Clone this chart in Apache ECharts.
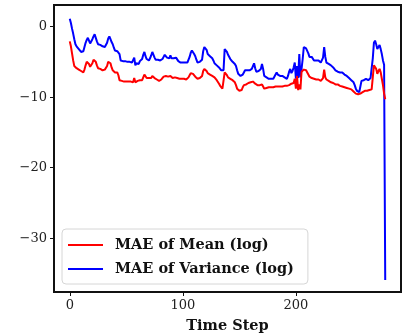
<!DOCTYPE html>
<html>
<head>
<meta charset="utf-8">
<script src="https://cdn.jsdelivr.net/npm/echarts@6/dist/echarts.min.js"></script>
<style>
  html, body { margin: 0; padding: 0; background: #fff; }
  #chart { width: 407px; height: 334px; }
</style>
</head>
<body>
<div id="chart"></div>
<script>
// MAE of Variance (log), one value per time step 0..279
const varianceLog = [
  1.1, 0.5, -0.3, -1.0, -1.8, -2.5, -2.8, -3.0, -3.2, -3.4,
  -3.6, -3.8, -3.5, -2.9, -2.3, -1.9, -1.6, -2.0, -2.4, -2.5,
  -1.8, -1.4, -1.1, -1.6, -2.1, -2.5, -2.4, -2.6, -2.8, -2.8,
  -2.9, -2.9, -2.9, -2.3, -1.7, -1.4, -1.8, -2.2, -2.5, -3.0,
  -3.4, -3.6, -3.5, -3.3, -3.9, -4.8, -4.8, -4.9, -4.9, -4.9,
  -4.9, -5.0, -4.9, -5.0, -5.0, -5.1, -5.0, -4.4, -5.5, -5.2,
  -5.1, -5.3, -4.9, -4.8, -4.6, -4.0, -3.6, -4.2, -4.6, -4.8,
  -4.8, -4.5, -4.1, -3.6, -3.7, -4.4, -4.7, -4.6, -4.7, -4.8,
  -4.8, -4.7, -4.6, -4.3, -4.0, -3.9, -4.4, -4.2, -4.5, -4.1,
  -4.5, -4.3, -4.5, -4.4, -4.4, -4.6, -4.9, -5.1, -5.1, -5.2,
  -5.1, -5.2, -5.1, -5.2, -5.1, -4.9, -4.3, -3.7, -3.4, -3.6,
  -3.9, -4.2, -4.7, -5.1, -5.1, -5.0, -5.1, -4.7, -3.5, -2.9,
  -2.7, -3.3, -3.9, -4.0, -4.2, -4.2, -4.5, -4.8, -5.2, -5.4,
  -5.5, -5.7, -5.8, -6.0, -6.2, -6.3, -6.2, -3.2, -3.0, -3.6,
  -4.0, -4.1, -4.6, -4.8, -5.0, -5.2, -5.3, -5.6, -6.2, -6.7,
  -6.8, -7.0, -7.0, -6.8, -6.5, -6.2, -6.3, -6.2, -6.1, -6.2,
  -6.1, -6.0, -5.6, -5.2, -5.9, -6.4, -6.5, -6.3, -6.2, -6.0,
  -5.3, -6.0, -7.0, -7.1, -7.2, -7.4, -7.4, -7.3, -7.4, -7.4,
  -7.4, -7.2, -6.8, -6.5, -6.8, -6.9, -7.0, -7.0, -7.0, -7.1,
  -7.2, -7.3, -7.4, -7.0, -6.4, -6.0, -6.6, -6.3, -5.8, -5.1,
  -7.4, -5.6, -7.3, -3.9, -7.2, -6.0, -4.6, -2.9, -3.0, -3.1,
  -3.2, -3.8, -4.3, -4.2, -4.3, -4.5, -4.8, -4.7, -4.8, -4.8,
  -4.8, -5.0, -5.1, -5.2, -4.4, -2.9, -4.3, -5.1, -5.2, -5.3,
  -5.3, -5.5, -5.7, -5.8, -6.0, -6.2, -6.3, -6.4, -6.5, -6.5,
  -6.5, -6.5, -6.6, -6.8, -6.9, -7.0, -7.2, -7.3, -7.4, -7.6,
  -7.8, -7.9, -8.3, -8.8, -9.1, -9.3, -9.3, -9.3, -7.7, -7.9,
  -7.6, -7.5, -7.4, -7.4, -7.6, -7.5, -7.3, -7.5, -4.5, -2.3,
  -2.0, -2.5, -3.2, -3.0, -2.6, -3.2, -3.9, -4.8, -5.4, -35.9
];

// MAE of Mean (log)
const meanLog = [
  -2.1, -2.8, -3.8, -4.8, -5.6, -5.8, -5.9, -6.0, -6.1, -6.1,
  -6.3, -6.4, -6.5, -6.1, -5.5, -5.0, -4.9, -5.3, -5.7, -5.8,
  -5.2, -4.7, -4.6, -5.0, -5.5, -5.9, -5.9, -6.0, -6.1, -6.2,
  -6.2, -6.1, -6.2, -5.6, -5.0, -4.8, -5.2, -5.8, -6.2, -6.4,
  -6.5, -6.6, -6.5, -6.9, -7.6, -7.7, -7.7, -7.8, -7.8, -7.8,
  -7.8, -7.7, -7.8, -7.9, -7.8, -7.7, -7.9, -7.3, -7.9, -7.8,
  -7.7, -7.8, -7.6, -7.7, -7.6, -7.2, -6.8, -7.0, -7.3, -7.4,
  -7.3, -7.4, -7.3, -7.0, -7.1, -7.3, -7.5, -7.5, -7.6, -7.7,
  -7.6, -7.5, -7.4, -7.1, -6.9, -7.0, -7.2, -7.1, -7.3, -7.0,
  -7.2, -7.3, -7.1, -7.2, -7.1, -7.3, -7.4, -7.4, -7.5, -7.4,
  -7.5, -7.4, -7.4, -7.5, -7.4, -7.2, -6.9, -6.6, -6.5, -6.7,
  -6.9, -7.1, -7.3, -7.4, -7.3, -7.3, -7.2, -7.0, -6.3, -6.0,
  -6.0, -6.3, -6.6, -6.7, -6.8, -6.9, -7.0, -7.1, -7.2, -7.4,
  -7.6, -7.8, -8.1, -8.4, -8.6, -8.8, -8.7, -6.5, -6.4, -6.9,
  -7.2, -7.4, -7.4, -7.5, -7.6, -7.7, -7.9, -8.3, -8.8, -9.0,
  -9.1, -9.1, -9.0, -8.6, -8.3, -8.1, -8.2, -8.1, -8.0, -8.0,
  -7.9, -7.8, -7.8, -7.9, -8.1, -8.3, -8.3, -8.4, -8.3, -8.4,
  -8.2, -8.5, -8.8, -8.8, -8.7, -8.6, -8.6, -8.7, -8.6, -8.6,
  -8.6, -8.5, -8.5, -8.4, -8.5, -8.6, -8.5, -8.4, -8.5, -8.5,
  -8.4, -8.4, -8.4, -8.3, -8.3, -8.2, -8.1, -8.3, -8.0, -7.4,
  -8.8, -7.0, -9.0, -8.2, -8.9, -6.4, -6.2, -6.1, -6.2, -6.2,
  -6.4, -6.8, -7.1, -7.2, -7.3, -7.4, -7.4, -7.4, -7.5, -7.4,
  -7.5, -7.6, -7.7, -7.7, -7.3, -6.1, -7.2, -7.5, -7.6, -7.7,
  -7.8, -7.9, -8.0, -8.0, -8.1, -8.2, -8.2, -8.2, -8.3, -8.4,
  -8.4, -8.5, -8.5, -8.6, -8.6, -8.7, -8.7, -8.8, -8.8, -8.9,
  -9.0, -9.2, -9.3, -9.5, -9.6, -9.6, -9.6, -9.5, -9.4, -9.3,
  -9.2, -9.1, -9.0, -9.1, -9.0, -9.0, -8.9, -8.9, -7.2, -5.5,
  -5.3, -6.0, -6.7, -6.3, -6.0, -6.5, -7.4, -8.3, -9.5, -10.3
];

const xTicks = [0, 100, 200];
const yTicks = [0, -10, -20, -30];
const seriesNames = ['MAE of Mean (log)', 'MAE of Variance (log)'];

const serif = '"DejaVu Serif", "Liberation Serif", serif';
const toPairs = arr => arr.map((v, i) => [i, v]);

const chart = echarts.init(document.getElementById('chart'), null, { renderer: 'canvas' });

chart.setOption({
    animation: false,
    backgroundColor: '#fff',
    grid: {
        left: 54,
        right: 6,
        top: 5,
        bottom: 42,
        show: true,
        borderColor: '#111',
        borderWidth: 2,
        containLabel: false,
        outerBoundsMode: 'none'
    },
    xAxis: {
        type: 'value',
        min: -13.95,
        max: 292.95,
        name: 'Time Step',
        nameLocation: 'middle',
        nameGap: 27,
        nameTextStyle: { fontFamily: serif, fontWeight: 'bold', fontSize: 14.5, color: '#111' },
        axisLine: { show: false, onZero: false },
        splitLine: { show: false },
        axisTick: {
            show: true,
            length: 4,
            customValues: xTicks,
            lineStyle: { color: '#111', width: 1 }
        },
        axisLabel: {
            customValues: xTicks,
            margin: 7,
            fontFamily: serif,
            fontSize: 13,
            color: '#222'
        }
    },
    yAxis: {
        type: 'value',
        min: -37.6,
        max: 3.05,
        axisLine: { show: false, onZero: false },
        splitLine: { show: false },
        axisTick: {
            show: true,
            length: 4,
            customValues: yTicks,
            lineStyle: { color: '#111', width: 1 }
        },
        axisLabel: {
            customValues: yTicks,
            margin: 7,
            fontFamily: serif,
            fontSize: 13,
            color: '#222',
            formatter: v => (v < 0 ? '\u2212' + Math.abs(v) : String(v))
        }
    },
    legend: {
        orient: 'vertical',
        left: 62,
        top: 229,
        padding: [8, 14, 7, 6],
        icon: 'rect',
        itemWidth: 35,
        itemHeight: 2,
        itemGap: 8,
        backgroundColor: '#fff',
        borderColor: '#d6d6d6',
        borderWidth: 1,
        borderRadius: 4,
        textStyle: {
            fontFamily: serif,
            fontWeight: 'bold',
            fontSize: 14.5,
            lineHeight: 16,
            color: '#111',
            padding: [0, 0, 0, 7]
        },
        data: seriesNames
    },
    series: [
        {
            name: seriesNames[0],
            type: 'line',
            data: toPairs(meanLog),
            symbol: 'none',
            lineStyle: { color: '#ff0000', width: 2 },
            itemStyle: { color: '#ff0000' },
            z: 3
        },
        {
            name: seriesNames[1],
            type: 'line',
            data: toPairs(varianceLog),
            symbol: 'none',
            lineStyle: { color: '#0000ff', width: 2 },
            itemStyle: { color: '#0000ff' },
            z: 2
        }
    ]
});
</script>
</body>
</html>
